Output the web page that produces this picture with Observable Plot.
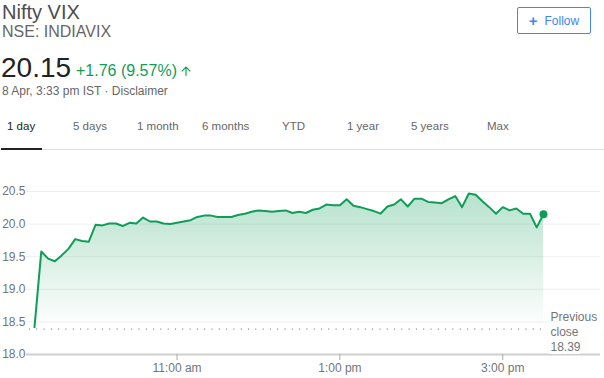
<!DOCTYPE html>
<html><head><meta charset="utf-8">
<script src="https://cdn.jsdelivr.net/npm/d3@7"></script>
<script src="https://cdn.jsdelivr.net/npm/@observablehq/plot@0.6"></script>
<style>
body{margin:0;background:#fff;font-family:Arial,"Liberation Sans",sans-serif;}
#root{position:relative;width:604px;height:378px;overflow:hidden;}
.abs{position:absolute;line-height:1;white-space:nowrap;}
#chart{position:absolute;left:0;top:160px;}
</style></head><body><div id="root"></div>
<script>
// ---- data ----
const title = "Nifty VIX";
const ticker = "NSE: INDIAVIX";
const lastPrice = "20.15";
const change = "+1.76 (9.57%)";
const dateLine = "8 Apr, 3:33 pm IST · Disclaimer";
const followLabel = "Follow";
const tabs = ["1 day","5 days","1 month","6 months","YTD","1 year","5 years","Max"];
const startMinutes = 9*60+15;   // 9:15 am
const stepMinutes = 5;
const values = [
  18.42,19.58,19.47,19.43,19.52,19.62,19.77,19.74,19.73,
  19.99,19.98,20.01,20.01,19.97,20.02,20.01,20.10,20.04,20.04,20.01,20.00,
  20.02,20.04,20.06,20.11,20.13,20.13,20.11,20.11,20.11,20.14,20.16,20.19,
  20.21,20.20,20.19,20.20,20.21,20.17,20.19,20.17,20.22,20.24,20.30,20.29,
  20.29,20.38,20.28,20.26,20.23,20.20,20.16,20.27,20.30,20.38,20.27,20.39,
  20.39,20.34,20.33,20.32,20.38,20.43,20.26,20.47,20.45,20.35,20.26,20.16,
  20.26,20.21,20.24,20.16,20.16,19.95,20.15
];
const prevClose = 18.39;
const yTicks = [18.0,18.5,19.0,19.5,20.0,20.5];
const xTickMinutes = [660,780,900];
const xTickLabels = ["11:00 am","1:00 pm","3:00 pm"];
const sessionEnd = 15*60+30;

// ---- header (HTML) ----
const root = document.getElementById("root");
function addText(txt, css){const d=document.createElement("div");d.className="abs";d.textContent=txt;Object.assign(d.style,css);root.appendChild(d);return d;}
addText(title,{left:"2px",top:"2px",fontSize:"20px",color:"#4d4d4d"});
addText(ticker,{left:"2px",top:"24px",fontSize:"16px",color:"#666"});
addText(lastPrice,{left:"1px",top:"54px",fontSize:"28px",color:"#222"});
addText(change,{left:"76px",top:"63px",fontSize:"16px",color:"#0f9d58"});
const arrow=document.createElement("div");arrow.className="abs";Object.assign(arrow.style,{left:"179px",top:"64px"});
arrow.innerHTML='<svg width="14" height="14" viewBox="0 0 24 24"><path d="M4 12l1.41 1.41L11 7.83V20h2V7.83l5.58 5.59L20 12l-8-8-8 8z" fill="#0f9d58"/></svg>';
root.appendChild(arrow);
addText(dateLine,{left:"2px",top:"85px",fontSize:"12px",color:"#666"});
// follow button
const btn=document.createElement("div");
Object.assign(btn.style,{position:"absolute",left:"517px",top:"7px",width:"72px",height:"25px",border:"1px solid #4285f4",borderRadius:"2px",display:"flex",alignItems:"center",justifyContent:"center",color:"#4285f4",fontSize:"12px",whiteSpace:"nowrap"});
btn.innerHTML='<span style="font-weight:bold;font-size:15px;margin-right:7px">+</span><span>'+followLabel+'</span>';
root.appendChild(btn);
// tabs
const tabX=[7,73,137,202,282,347,411,487];
tabs.forEach((t,i)=>addText(t,{left:tabX[i]+"px",top:"121px",fontSize:"11.5px",color:i===0?"#222":"#666"}));
const gl=document.createElement("div");Object.assign(gl.style,{position:"absolute",left:"0",top:"149px",width:"604px",height:"1px",background:"#e0e0e0"});root.appendChild(gl);
const ul=document.createElement("div");Object.assign(ul.style,{position:"absolute",left:"1px",top:"148px",width:"41px",height:"2px",background:"#222"});root.appendChild(ul);

// ---- chart ----
const data = values.map((v,i)=>({t:startMinutes+i*stepMinutes, v}));
const last = data[data.length-1];
const labelFor = new Map(xTickMinutes.map((m,i)=>[m,xTickLabels[i]]));
const gradientMark = () => {
  const ns="http://www.w3.org/2000/svg";
  const defs=document.createElementNS(ns,"defs");
  const lg=document.createElementNS(ns,"linearGradient");
  lg.setAttribute("id","vixfill");lg.setAttribute("x1","0");lg.setAttribute("y1","0");lg.setAttribute("x2","0");lg.setAttribute("y2","1");
  [["0%",0.3],["100%",0.0]].forEach(([o,a])=>{const s=document.createElementNS(ns,"stop");s.setAttribute("offset",o);s.setAttribute("stop-color","#0f9d58");s.setAttribute("stop-opacity",a);lg.appendChild(s);});
  defs.appendChild(lg);return defs;
};
const chart = Plot.plot({
  width:604, height:218,
  marginTop:31, marginBottom:24, marginLeft:34, marginRight:61,
  style:{fontFamily:"Arial, 'Liberation Sans', sans-serif", fontSize:"12px", background:"transparent", overflow:"visible"},
  x:{domain:[startMinutes, sessionEnd]},
  y:{domain:[18,20.5]},
  marks:[
    gradientMark,
    Plot.ruleY(yTicks.filter(d=>d>18),{stroke:"#efefef",insetLeft:-8,insetRight:-57}),
    Plot.areaY(data,{x:"t",y1:prevClose,y2:"v",fill:"url(#vixfill)"}),
    Plot.ruleY([prevClose],{stroke:"#5f6368",strokeDasharray:"1,6.3",insetLeft:-5}),
    Plot.ruleY([18],{stroke:"#cfcfcf",strokeWidth:2,insetLeft:-8,insetRight:-57}),
    Plot.lineY(data,{x:"t",y:"v",stroke:"#0f9d58",strokeWidth:2}),
    Plot.dot([last],{x:"t",y:"v",r:4,fill:"#0f9d58"}),
    Plot.text([prevClose],{x:()=>sessionEnd,y:d=>d,text:d=>`Previous\nclose\n${d.toFixed(2)}`,textAnchor:"start",dx:7,dy:2,lineHeight:1.25,fill:"#70757a",fontSize:12,stroke:"white",strokeWidth:6}),
    Plot.axisY({ticks:yTicks,tickSize:0,tickPadding:9,tickFormat:d3.format(".1f"),fill:"#70757a",fontSize:12,label:null}),
    Plot.axisX({ticks:xTickMinutes,tickSize:6,tickPadding:3,tickFormat:d=>labelFor.get(d),stroke:"#aaa",fill:"#70757a",fontSize:12,label:null})
  ]
});
chart.id="chart";
root.appendChild(chart);
</script></body></html>
